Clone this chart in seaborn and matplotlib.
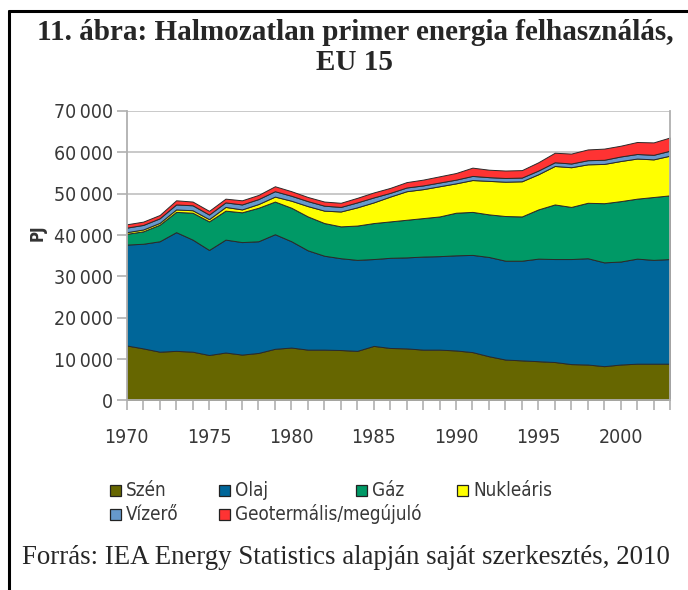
"""Halmozatlan primer energia felhasználás, EU 15 - stacked area chart."""

import matplotlib
matplotlib.use("Agg")
import matplotlib.pyplot as plt
from matplotlib.lines import Line2D
from matplotlib.patches import Rectangle
import pandas as pd
import seaborn as sns

years = list(range(1970, 2004))

szen = [13300, 12600, 11800, 12000, 11800, 11000, 11600, 11100, 11500, 12500,
        12800, 12300, 12300, 12200, 12000, 13200, 12700, 12600, 12300, 12300,
        12100, 11700, 10700, 9900, 9700, 9500, 9300, 8800, 8700, 8300,
        8700, 8900, 8900, 8900]
olaj = [24400, 25300, 26700, 28700, 27100, 25400, 27300, 27200, 27000, 27700,
        25700, 24000, 22700, 22200, 22000, 21000, 21800, 22000, 22500, 22600,
        23000, 23500, 24000, 23900, 24100, 24800, 24900, 25400, 25700, 25100,
        24900, 25400, 25100, 25300]
gaz = [2600, 3000, 4000, 4900, 6500, 6900, 7000, 7200, 8100, 7900,
       8100, 8200, 7900, 7700, 8300, 8700, 8800, 9100, 9300, 9600,
       10300, 10400, 10300, 10800, 10700, 11900, 13200, 12600, 13400, 14300,
       14600, 14500, 15200, 15400]
nuklearis = [400, 450, 450, 600, 600, 550, 900, 700, 900, 1200,
             1700, 2500, 3000, 3600, 4400, 5000, 6000, 6900, 7000, 7300,
             7100, 7700, 8100, 8300, 8500, 8500, 9300, 9600, 9300, 9500,
             9700, 9700, 9100, 9600]
vizero = [1100, 1100, 1100, 1200, 1200, 1100, 1100, 1200, 1200, 1300,
          1200, 1200, 1200, 1100, 1200, 1200, 900, 900, 900, 900,
          900, 1000, 900, 900, 900, 900, 900, 900, 1000, 1000,
          1100, 1100, 1100, 1200]
geoterm = [800, 800, 800, 1000, 900, 900, 900, 1000, 1000, 1200,
           1100, 1000, 1000, 1000, 1100, 1200, 1200, 1300, 1400, 1500,
           1600, 2000, 1800, 1800, 1800, 2000, 2300, 2400, 2600, 2700,
           2600, 2900, 3000, 3200]

labels = ["Szén", "Olaj", "Gáz", "Nukleáris", "Vízerő", "Geotermális/megújuló"]
colors = ["#666600", "#006699", "#009966", "#FFFF00", "#6699CC", "#FF3333"]

df = pd.DataFrame({"Év": years, "Szén": szen, "Olaj": olaj, "Gáz": gaz,
                   "Nukleáris": nuklearis, "Vízerő": vizero,
                   "Geotermális/megújuló": geoterm})

sns.set_style("white")
plt.rcParams["font.family"] = ["DejaVu Sans"]
plt.rcParams["font.stretch"] = "condensed"

fig = plt.figure(figsize=(6.88, 5.90), dpi=100)
ax = fig.add_axes([0.1842, 0.3212, 0.7896, 0.4907])

ax.stackplot(df["Év"], [df[c] for c in labels], colors=colors,
             edgecolor="#2a2a2a", linewidth=0.7, zorder=2)

ax.set_xlim(1970, 2003)
ax.set_ylim(0, 70000)
ax.set_yticks(range(0, 70001, 10000))
ax.set_yticklabels([f"{v:,}".replace(",", "\u2009") for v in range(0, 70001, 10000)])
ax.set_xticks(range(1970, 2004), minor=True)
ax.set_xticks(range(1970, 2001, 5))
ax.yaxis.grid(True, color="#c0c0c0", linewidth=1.2, zorder=0)
ax.set_axisbelow(True)

for side in ["left", "bottom", "right"]:
    ax.spines[side].set_color("#b0b0b0")
    ax.spines[side].set_linewidth(1.3)
ax.spines["top"].set_visible(False)

ax.tick_params(axis="y", direction="out", length=7, width=1.2, color="#b0b0b0",
               labelsize=14, labelcolor="#383838", pad=3, left=True)
ax.tick_params(axis="x", which="both", direction="out", length=7, width=1.2,
               color="#b0b0b0", labelsize=14, labelcolor="#383838", pad=13,
               bottom=True)
ax.set_ylabel("")
fig.text(38 / 688, 1 - 233 / 590, "PJ", rotation=90, ha="center", va="center",
         fontsize=12, fontweight="bold", color="#333333")

# legend, placed entry by entry like in the original
legend_pos = [(110, 490), (219, 490), (356, 490), (457, 490),
              (110, 514), (219, 514)]
for (px, py), lab, col in zip(legend_pos, labels, colors):
    fig.add_artist(Rectangle((px / 688, 1 - (py + 5.5) / 590), 11 / 688, 11 / 590,
                             facecolor=col, edgecolor="#222222", linewidth=0.9,
                             transform=fig.transFigure))
    fig.text((px + 16) / 688, 1 - py / 590, lab, ha="left", va="center",
             fontsize=13.5, color="#383838")

# title and source
fig.text(355 / 688, 1 - 32 / 590, "11. ábra: Halmozatlan primer energia felhasználás,",
         ha="center", va="center", fontsize=21, fontweight="bold",
         family="Liberation Serif", stretch="normal")
fig.text(355 / 688, 1 - 63 / 590, "EU 15", ha="center", va="center", fontsize=21,
         fontweight="bold", family="Liberation Serif", stretch="normal")
fig.text(346 / 688, 1 - 557 / 590,
         "Forrás: IEA Energy Statistics alapján saját szerkesztés, 2010",
         ha="center", va="center", fontsize=19.4, family="Liberation Serif",
         stretch="normal")

# frame around the figure
fig.add_artist(Line2D([9 / 688, 9 / 688], [0, 1 - 11 / 590], color="black",
                      linewidth=2.2, transform=fig.transFigure))
fig.add_artist(Line2D([9 / 688, 1], [1 - 11 / 590, 1 - 11 / 590], color="black",
                      linewidth=2.2, transform=fig.transFigure))

fig.savefig("out.png", dpi=100)
